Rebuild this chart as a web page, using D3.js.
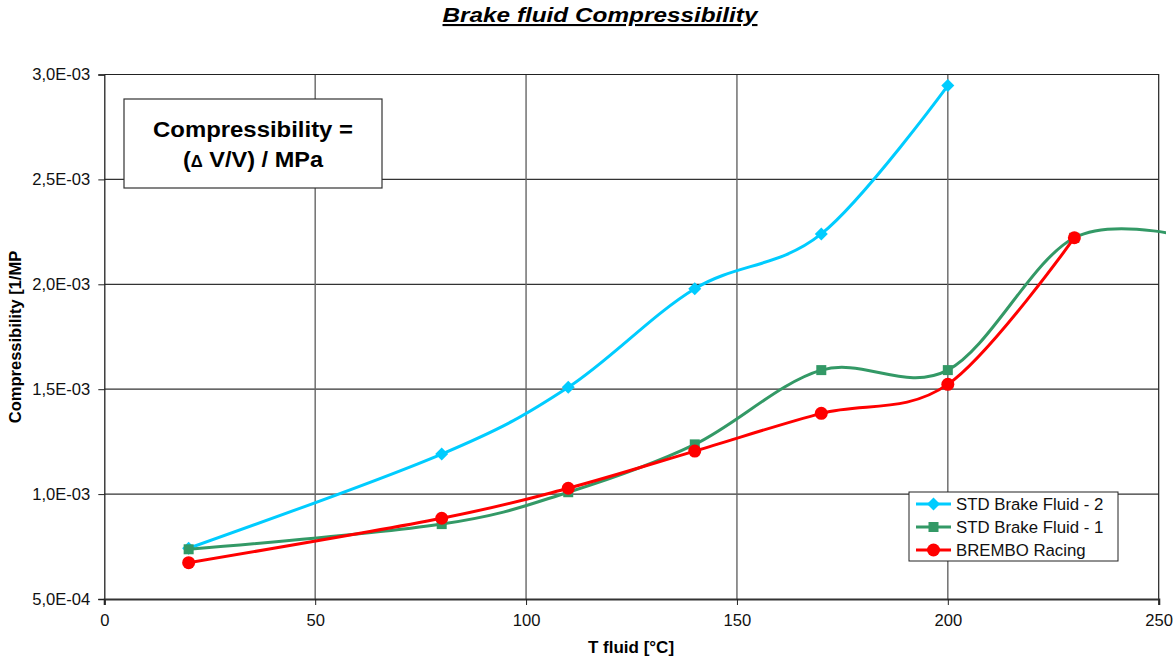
<!DOCTYPE html>
<html>
<head>
<meta charset="utf-8">
<script src="https://cdn.jsdelivr.net/npm/d3@7"></script>
<style>
  body { margin: 0; background: #fff; }
  svg { display: block; font-family: "Liberation Sans", Arial, sans-serif; }
</style>
</head>
<body>
<svg id="chart"></svg>
<script>
// temperatures of the readings [°C]
const temps = [20, 80, 110, 140, 170, 200, 230];
// STD 1 has one more reading past the end of the axis (only its curve shows)
const std1Temps = [20, 80, 110, 140, 170, 200, 230, 260];

const std2 = [0.742e-3, 1.191e-3, 1.509e-3, 1.979e-3, 2.240e-3, 2.947e-3];
const std1 = [0.737e-3, 0.857e-3, 1.009e-3, 1.237e-3, 1.591e-3, 1.591e-3, 2.222e-3, 2.21e-3];
const brembo = [0.673e-3, 0.885e-3, 1.028e-3, 1.205e-3, 1.385e-3, 1.523e-3, 2.222e-3];

const xTicks = [0, 50, 100, 150, 200, 250];
const yTicks = [5e-4, 1e-3, 1.5e-3, 2e-3, 2.5e-3, 3e-3];

const seriesList = [
  { name: "STD Brake Fluid - 2", t: temps, v: std2, color: "#00CCFF", marker: "diamond" },
  { name: "STD Brake Fluid - 1", t: std1Temps, v: std1, color: "#339966", marker: "square" },
  { name: "BREMBO Racing", t: temps, v: brembo, color: "#FF0000", marker: "circle" },
];

const W = 1173, H = 662;
const plot = { left: 104.3, right: 1158.7, top: 74.5, bottom: 599 };

const svg = d3.select("#chart").attr("width", W).attr("height", H);

const x = d3.scaleLinear().domain([0, 250]).range([plot.left, plot.right]);
const y = d3.scaleLinear().domain([5e-4, 3e-3]).range([plot.bottom, plot.top]);

// "3,0E-03" style labels
function sciComma(v) {
  const s = d3.format(".1e")(v); // 3.0e-3
  const [m, e] = s.split("e");
  const sign = e[0] === "-" ? "-" : "";
  const ex = Math.abs(+e).toString().padStart(2, "0");
  return m.replace(".", ",") + "E" + sign + ex;
}

// gridlines
svg.append("g")
  .selectAll("line")
  .data(yTicks.slice(1, -1))
  .join("line")
  .attr("x1", plot.left).attr("x2", plot.right)
  .attr("y1", (d) => y(d)).attr("y2", (d) => y(d))
  .attr("stroke", "#333").attr("stroke-width", 1.2);

svg.append("g")
  .selectAll("line")
  .data(xTicks.slice(1, -1))
  .join("line")
  .attr("x1", (d) => x(d)).attr("x2", (d) => x(d))
  .attr("y1", plot.top).attr("y2", plot.bottom)
  .attr("stroke", "#666").attr("stroke-width", 1.4);

// plot border top / right
svg.append("path")
  .attr("d", `M${plot.left},${plot.top}H${plot.right}V${plot.bottom}`)
  .attr("fill", "none").attr("stroke", "#222").attr("stroke-width", 1.2);

// axes
const yAxis = d3.axisLeft(y).tickValues(yTicks).tickFormat(sciComma).tickSize(6).tickPadding(8);
const gy = svg.append("g").attr("transform", `translate(${plot.left},0)`).call(yAxis);
const xAxis = d3.axisBottom(x).tickValues(xTicks).tickFormat(d3.format("d")).tickSize(6).tickPadding(9);
const gx = svg.append("g").attr("transform", `translate(0,${plot.bottom})`).call(xAxis);

[gx, gy].forEach((g) => {
  g.select(".domain").attr("stroke", "#222");
  g.selectAll(".tick line").attr("stroke", "#222");
  g.selectAll(".tick text").attr("font-size", 16.6).attr("fill", "#111")
    .attr("font-family", "Liberation Sans, Arial, sans-serif");
});
gx.select(".domain").attr("stroke", "#333").attr("stroke-width", 2.2);
gy.select(".domain").attr("stroke-width", 1.3);

// series
svg.append("clipPath").attr("id", "clip")
  .append("rect")
  .attr("x", plot.left).attr("y", 0)
  .attr("width", 1166 - plot.left).attr("height", H);

const line = d3.line()
  .x((d) => x(d[0]))
  .y((d) => y(d[1]))
  .curve(d3.curveCardinal.tension(0));

function drawMarker(g, type, color, cx, cy) {
  if (type === "diamond") {
    g.append("path")
      .attr("d", `M${cx},${cy - 6.5}L${cx + 6.5},${cy}L${cx},${cy + 6.5}L${cx - 6.5},${cy}Z`)
      .attr("fill", color);
  } else if (type === "square") {
    g.append("rect").attr("x", cx - 5).attr("y", cy - 5).attr("width", 10).attr("height", 10)
      .attr("fill", color);
  } else {
    g.append("circle").attr("cx", cx).attr("cy", cy).attr("r", 6.5).attr("fill", color);
  }
}

const gSeries = svg.append("g").attr("clip-path", "url(#clip)");
seriesList.forEach((s) => {
  const pts = s.v.map((v, i) => [s.t[i], v]);
  const g = gSeries.append("g");
  g.append("path")
    .attr("d", line(pts))
    .attr("fill", "none")
    .attr("stroke", s.color)
    .attr("stroke-width", 3);
  pts.forEach((p) => drawMarker(g, s.marker, s.color, x(p[0]), y(p[1])));
});

// legend
const legend = svg.append("g").attr("transform", "translate(909,492)");
legend.append("rect").attr("width", 209).attr("height", 69)
  .attr("fill", "#fff").attr("stroke", "#222").attr("stroke-width", 1);
seriesList.forEach((s, i) => {
  const ly = 12 + i * 23;
  legend.append("line").attr("x1", 7).attr("x2", 42).attr("y1", ly).attr("y2", ly)
    .attr("stroke", s.color).attr("stroke-width", 3);
  drawMarker(legend, s.marker, s.color, 24.5, ly);
  legend.append("text").attr("x", 47).attr("y", ly + 6)
    .attr("font-size", 16.8).attr("fill", "#111").text(s.name);
});

// formula box
const box = svg.append("g");
box.append("rect").attr("x", 124).attr("y", 99).attr("width", 258).attr("height", 89)
  .attr("fill", "#fff").attr("stroke", "#333").attr("stroke-width", 1.2);
box.append("text").attr("x", 253).attr("y", 137).attr("text-anchor", "middle")
  .attr("font-size", 22.5).attr("font-weight", "bold").attr("fill", "#000")
  .attr("textLength", 200).attr("lengthAdjust", "spacingAndGlyphs")
  .text("Compressibility =");
const t2 = box.append("text").attr("x", 253).attr("y", 167).attr("text-anchor", "middle")
  .attr("font-size", 22.5).attr("font-weight", "bold").attr("fill", "#000")
  .attr("textLength", 140).attr("lengthAdjust", "spacingAndGlyphs");
t2.append("tspan").text("(");
t2.append("tspan").attr("font-size", 16).text("\u0394");
t2.append("tspan").text(" V/V) / MPa");

// title
svg.append("text").attr("x", 600).attr("y", 22).attr("text-anchor", "middle")
  .attr("font-size", 21).attr("font-weight", "bold").attr("font-style", "italic")
  .attr("text-decoration", "underline").attr("fill", "#000")
  .attr("textLength", 315).attr("lengthAdjust", "spacingAndGlyphs")
  .text("Brake fluid Compressibility");

// axis titles
svg.append("text").attr("x", 631).attr("y", 653).attr("text-anchor", "middle")
  .attr("font-size", 17).attr("font-weight", "bold").attr("fill", "#000")
  .text("T fluid [°C]");
svg.append("text")
  .attr("transform", "translate(21,337) rotate(-90)")
  .attr("text-anchor", "middle")
  .attr("font-size", 16.5).attr("font-weight", "bold").attr("fill", "#000")
  .text("Compressibility [1/MP");
</script>
</body>
</html>
